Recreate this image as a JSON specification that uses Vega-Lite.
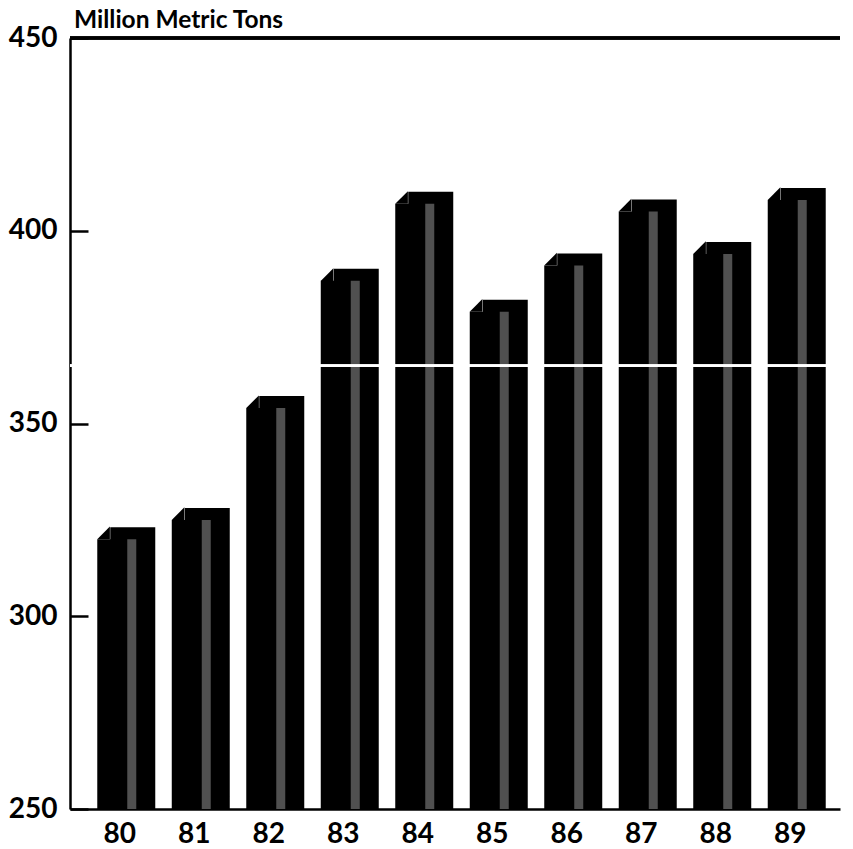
{
  "$schema": "https://vega.github.io/schema/vega-lite/v6.json",
  "autosize": "none",
  "padding": {"left": 70, "top": 38, "right": 13, "bottom": 40},
  "width": 770,
  "height": 771,
  "background": "white",
  "title": {
    "text": "Million Metric Tons",
    "anchor": "start",
    "frame": "group",
    "font": "Lato",
    "fontSize": 24.5,
    "fontWeight": "bold",
    "color": "black",
    "offset": -9,
    "dx": 4
  },
  "data": {
    "values": [
      {"year": "80", "tons": 320},
      {"year": "81", "tons": 325},
      {"year": "82", "tons": 354},
      {"year": "83", "tons": 387},
      {"year": "84", "tons": 407},
      {"year": "85", "tons": 379},
      {"year": "86", "tons": 391},
      {"year": "87", "tons": 405},
      {"year": "88", "tons": 394},
      {"year": "89", "tons": 408}
    ]
  },
  "layer": [
    {
      "mark": {"type": "bar", "color": "black", "xOffset": 13, "yOffset": -12},
      "encoding": {
        "x": {
          "field": "year",
          "type": "nominal",
          "sort": null,
          "scale": {"paddingInner": 0.396, "paddingOuter": 0.366},
          "axis": {
            "title": null,
            "labelAngle": 0,
            "labelFont": "Lato",
            "labelFontSize": 28,
            "labelFontWeight": "bold",
            "labelColor": "black",
            "labelPadding": 11,
            "ticks": false,
            "domainColor": "black",
            "domainWidth": 2.5
          }
        },
        "y": {
          "field": "tons",
          "type": "quantitative",
          "scale": {"domain": [250, 450], "nice": false, "zero": false},
          "axis": {
            "title": null,
            "values": [250, 300, 350, 400, 450],
            "labelFont": "Lato",
            "labelFontSize": 28,
            "labelFontWeight": "bold",
            "labelColor": "black",
            "tickSize": -18,
            "tickWidth": 2.5,
            "tickColor": "black",
            "labelPadding": 31,
            "domainColor": "black",
            "domainWidth": 2.5,
            "grid": false
          }
        },
        "y2": {"datum": 250}
      }
    },
    {
      "mark": {"type": "bar", "color": "black"},
      "encoding": {
        "x": {"field": "year", "type": "nominal", "sort": null},
        "y": {"field": "tons", "type": "quantitative"},
        "y2": {"datum": 250}
      }
    },
    {
      "mark": {"type": "bar", "color": "#505050", "width": 9, "xOffset": 12},
      "encoding": {
        "x": {"field": "year", "type": "nominal", "sort": null},
        "y": {"field": "tons", "type": "quantitative"},
        "y2": {"datum": 250}
      }
    },
    {
      "mark": {
        "type": "point",
        "shape": "M -1 1 L 1 -1 L 1 1 Z",
        "filled": true,
        "color": "black",
        "opacity": 1,
        "size": 160,
        "strokeWidth": 0,
        "xOffset": -16.2,
        "yOffset": -6.3
      },
      "encoding": {
        "x": {"field": "year", "type": "nominal", "sort": null},
        "y": {"field": "tons", "type": "quantitative"}
      }
    },
    {
      "mark": {
        "type": "point",
        "shape": "M -1 -1 L 1 -1 L -1 1 Z",
        "filled": true,
        "color": "black",
        "opacity": 1,
        "size": 160,
        "strokeWidth": 0,
        "xOffset": 28.7,
        "yOffset": -6.3
      },
      "encoding": {
        "x": {"field": "year", "type": "nominal", "sort": null},
        "y": {"datum": 250}
      }
    },
    {
      "mark": {"type": "rule", "color": "white", "strokeWidth": 2},
      "encoding": {"y": {"datum": 365}}
    },
    {
      "mark": {"type": "rule", "color": "black", "strokeWidth": 2.5},
      "encoding": {"y": {"datum": 450}}
    }
  ],
  "config": {
    "view": {"stroke": null}
  }
}
